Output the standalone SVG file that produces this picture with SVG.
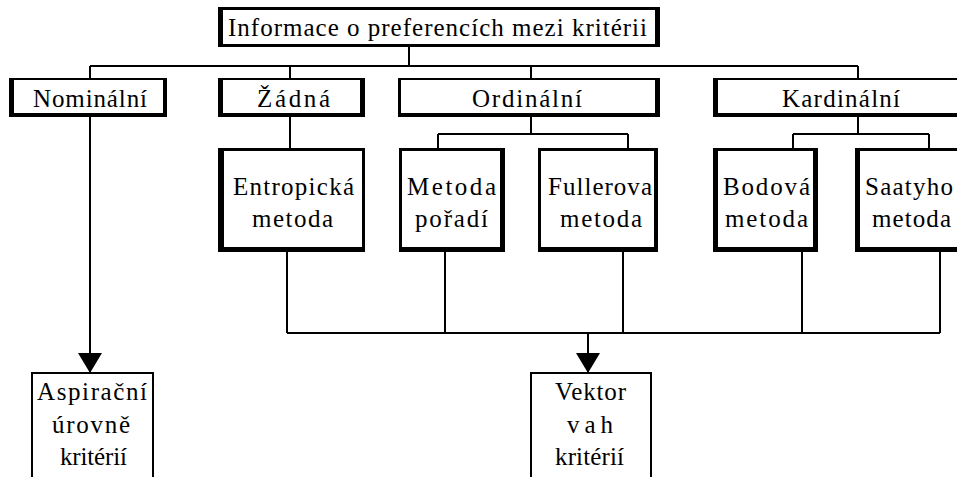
<svg xmlns="http://www.w3.org/2000/svg" width="957" height="477" viewBox="0 0 957 477">
<style>
.frame{fill:#000;fill-rule:evenodd}
.fill{fill:#fff}
.thin{fill:#fff;stroke:#000;stroke-width:2}
.t{font-family:"Liberation Serif","Times New Roman",serif;font-size:25px;fill:#000}
.c{fill:none;stroke:#000;stroke-width:2}
</style>
<defs>
<marker id="ah" markerUnits="userSpaceOnUse" markerWidth="20" markerHeight="24" refX="20" refY="12" orient="auto">
<path d="M0 0L20 12L0 24Z" fill="#000"/>
</marker>
</defs>
<rect width="957" height="477" fill="#fff"/>
<g id="connectors">
<path class="c" d="M409 47V66M90 66H858M90 66V78M290 66V78M531 66V78M858 66V78"/>
<path class="c" d="M290 117V148"/>
<path class="c" d="M531 117V134M438 134H628M438 134V148M628 134V148"/>
<path class="c" d="M858 117V134M793 134H929M793 134V148M929 134V148"/>
<path class="c" d="M287 252V333M445 252V333M623 252V333M802 252V333M940 252V333M287 333H940"/>
<path class="c" d="M588 333V373" marker-end="url(#ah)"/>
<path class="c" d="M90 117V373" marker-end="url(#ah)"/>
</g>
<g id="n-info">
<rect class="fill" x="218" y="7" width="442" height="40"/>
<path class="frame" d="M218 7H660V47H218Z M223 10V44H655V10Z"/>
<text class="t" x="228" y="36" textLength="419" lengthAdjust="spacing">Informace o preferencích mezi kritérii</text>
</g>
<g id="n-nominalni">
<rect class="fill" x="9" y="78" width="158" height="39"/>
<path class="frame" d="M9 78H167V117H9Z M14 80V113H163V80Z"/>
<text class="t" x="33" y="107" textLength="114" lengthAdjust="spacing">Nominální</text>
</g>
<g id="n-zadna">
<rect class="fill" x="218" y="78" width="147" height="39"/>
<path class="frame" d="M218 78H365V117H218Z M223 80V113H360V80Z"/>
<text class="t" x="257" y="107" textLength="73" lengthAdjust="spacing">Žádná</text>
</g>
<g id="n-ordinalni">
<rect class="fill" x="398" y="78" width="262" height="39"/>
<path class="frame" d="M398 78H660V117H398Z M401 80V113H655V80Z"/>
<text class="t" x="472" y="107" textLength="110" lengthAdjust="spacing">Ordinální</text>
</g>
<g id="n-kardinalni">
<rect class="fill" x="713" y="78" width="290" height="39"/>
<path class="frame" d="M713 78H1003V117H713Z M718 80V113H999V80Z"/>
<text class="t" x="782" y="107" textLength="118" lengthAdjust="spacing">Kardinální</text>
</g>
<g id="n-entropicka">
<rect class="fill" x="218" y="148" width="147" height="104"/>
<path class="frame" d="M218 148H365V252H218Z M224 151V247H362V151Z"/>
<text class="t" x="233" y="195" textLength="121" lengthAdjust="spacing">Entropická</text>
<text class="t" x="252" y="227" textLength="81" lengthAdjust="spacing">metoda</text>
</g>
<g id="n-poradi">
<rect class="fill" x="399" y="148" width="106" height="104"/>
<path class="frame" d="M399 148H505V252H399Z M402 151V247H500V151Z"/>
<text class="t" x="407" y="195" textLength="89" lengthAdjust="spacing">Metoda</text>
<text class="t" x="415" y="227" textLength="73" lengthAdjust="spacing">pořadí</text>
</g>
<g id="n-fuller">
<rect class="fill" x="538" y="148" width="120" height="104"/>
<path class="frame" d="M538 148H658V252H538Z M541 151V247H654V151Z"/>
<text class="t" x="548" y="195" textLength="104" lengthAdjust="spacing">Fullerova</text>
<text class="t" x="560" y="227" textLength="82" lengthAdjust="spacing">metoda</text>
</g>
<g id="n-bodova">
<rect class="fill" x="713" y="148" width="105" height="104"/>
<path class="frame" d="M713 148H818V252H713Z M718 151V247H813V151Z"/>
<text class="t" x="723" y="195" textLength="87" lengthAdjust="spacing">Bodová</text>
<text class="t" x="725" y="227" textLength="83" lengthAdjust="spacing">metoda</text>
</g>
<g id="n-saaty">
<rect class="fill" x="855" y="148" width="170" height="104"/>
<path class="frame" d="M855 148H1025V252H855Z M860 151V247H1021V151Z"/>
<text class="t" x="865" y="195" textLength="88" lengthAdjust="spacing">Saatyho</text>
<text class="t" x="872" y="227" textLength="79" lengthAdjust="spacing">metoda</text>
</g>
<g id="n-aspiracni">
<rect class="thin" x="32" y="373" width="121" height="120"/>
<text class="t" x="37" y="400" textLength="110" lengthAdjust="spacing">Aspirační</text>
<text class="t" x="52" y="433" textLength="78" lengthAdjust="spacing">úrovně</text>
<text class="t" x="60" y="465" textLength="67" lengthAdjust="spacing">kritérií</text>
</g>
<g id="n-vektor">
<rect class="thin" x="531" y="373" width="120" height="120"/>
<text class="t" x="555" y="400" textLength="71" lengthAdjust="spacing">Vektor</text>
<text class="t" x="567" y="433" textLength="46" lengthAdjust="spacing">vah</text>
<text class="t" x="555" y="465" textLength="69" lengthAdjust="spacing">kritérií</text>
</g>
</svg>
